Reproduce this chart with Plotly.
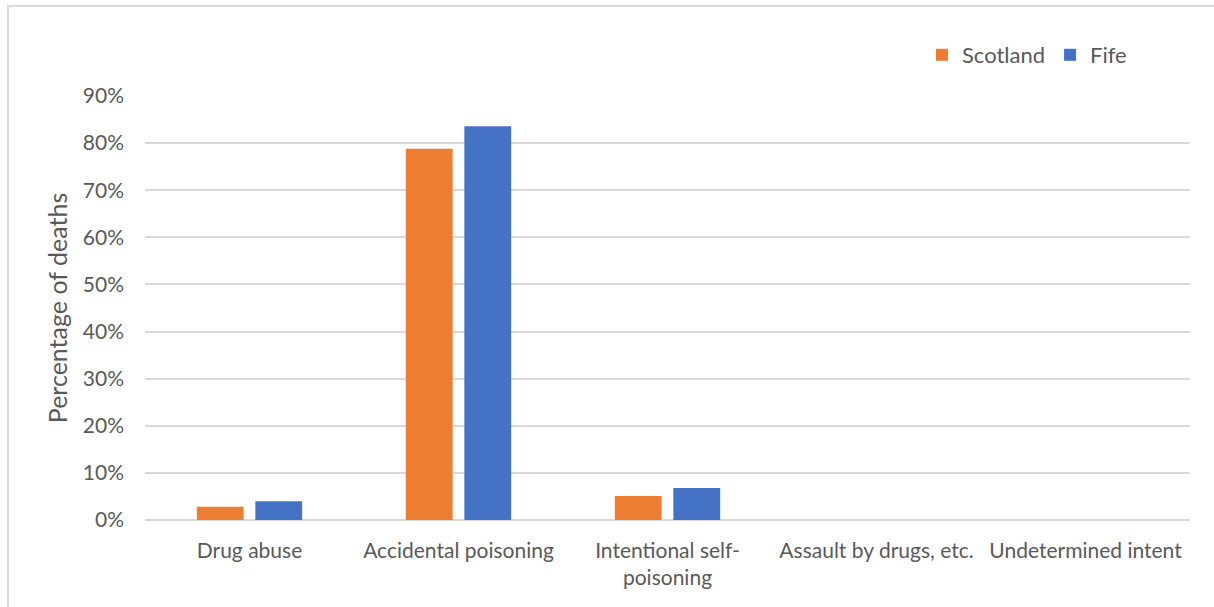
import plotly.graph_objects as go

categories = ["Drug abuse", "Accidental poisoning", "Intentional self-<br>poisoning",
              "Assault by drugs, etc.", "Undetermined intent"]
scotland = [0.028, 0.788, 0.051, 0.0, 0.0]
fife = [0.040, 0.836, 0.068, 0.0, 0.0]
y_ticks = [0, 0.1, 0.2, 0.3, 0.4, 0.5, 0.6, 0.7, 0.8, 0.9]

FONT = "Lato, Carlito, 'Liberation Sans', sans-serif"
TXT = "#595959"
GRID = "#D9D9D9"

fig = go.Figure()
fig.add_trace(go.Bar(name="Scotland", x=categories, y=scotland, marker_color="#ED7D31",
                     marker_line_width=0))
fig.add_trace(go.Bar(name="Fife", x=categories, y=fife, marker_color="#4472C4",
                     marker_line_width=0))

fig.update_layout(
    width=1214, height=607,
    margin=dict(l=145, r=24, t=96, b=87),
    paper_bgcolor="white", plot_bgcolor="white",
    barmode="group", bargap=0.44, bargroupgap=0.2,
    font=dict(family=FONT, color=TXT, size=21),
    legend=dict(orientation="h", x=(1132 - 145) / 1045, xanchor="right",
                y=1.0 + 41/424, yanchor="middle",
                font=dict(size=22, color=TXT), itemwidth=30, traceorder="normal"),
    xaxis=dict(showgrid=False, showline=False, ticks="", tickfont=dict(size=21, color=TXT),
               ticklabelstandoff=16, tickangle=0),
    yaxis=dict(range=[0, 0.9], tickvals=y_ticks, tickformat=".0%", showgrid=True,
               gridcolor=GRID, gridwidth=2, zeroline=True, zerolinecolor=GRID, zerolinewidth=2,
               showline=False, ticks="", tickfont=dict(size=21, color=TXT),
               ticklabelstandoff=20,
               title=dict(text="Percentage of deaths", font=dict(size=25, color=TXT), standoff=8)),
    shapes=[dict(type="rect", xref="paper", yref="paper",
                 x0=(8 - 145) / 1045, x1=(1230 - 145) / 1045,
                 y0=(520 - 620) / 424, y1=(520 - 6) / 424,
                 line=dict(color=GRID, width=2), layer="below")],
)

fig.write_html("out.html")
